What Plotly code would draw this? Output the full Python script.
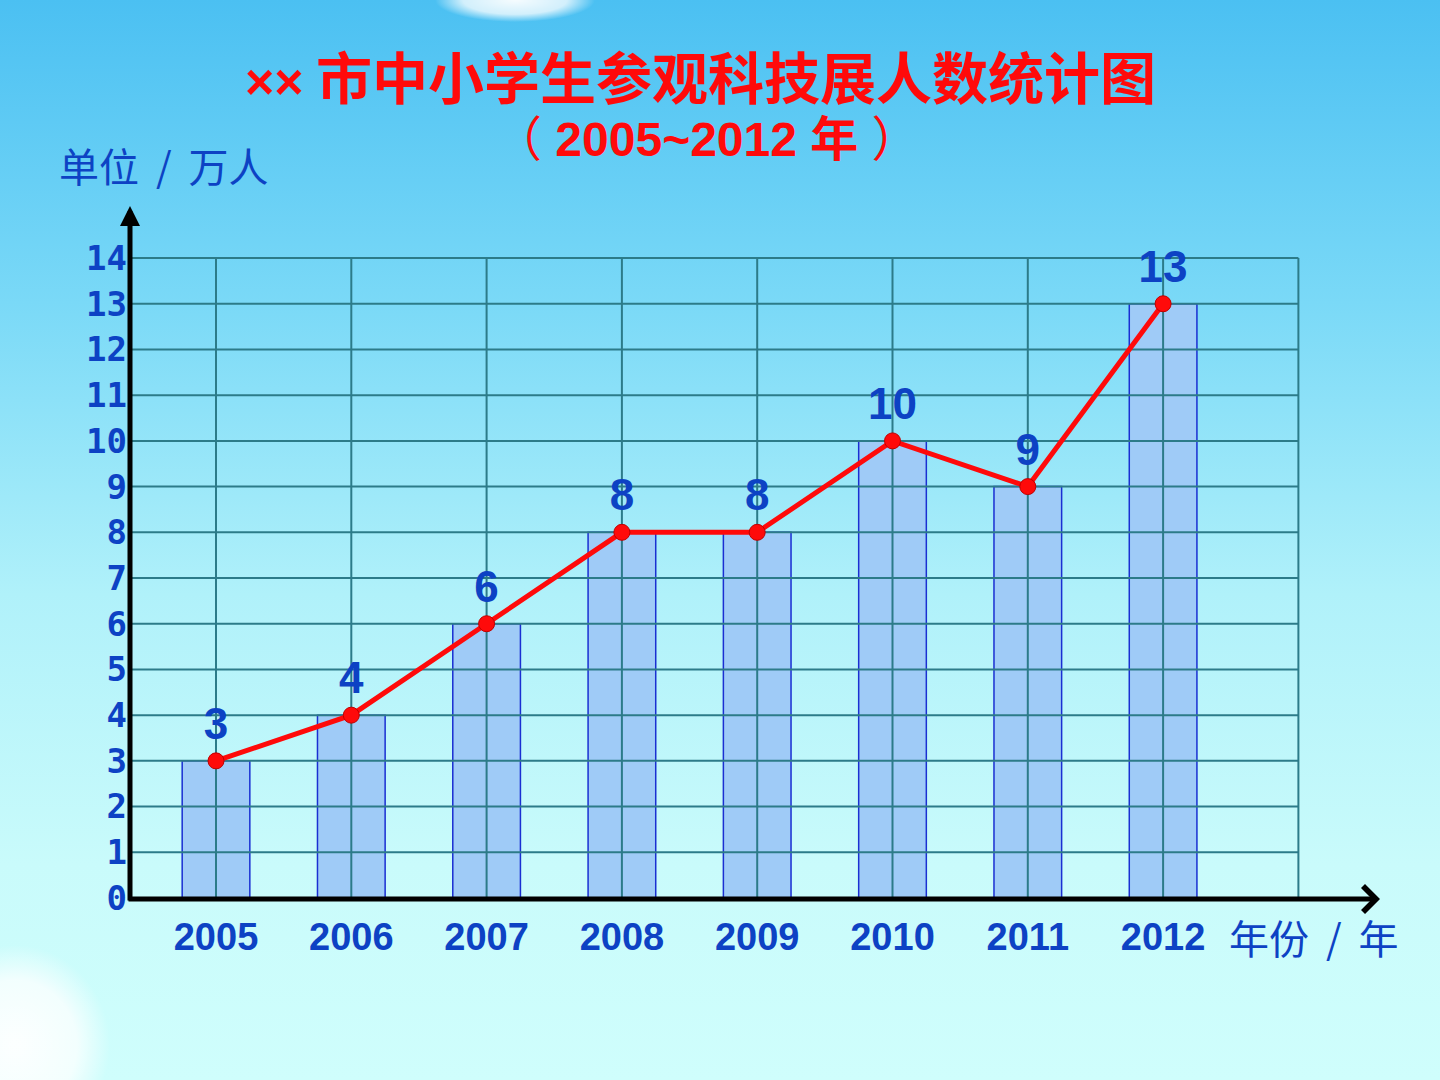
import base64
import plotly.graph_objects as go

# ---------------- data ----------------
years = [2005, 2006, 2007, 2008, 2009, 2010, 2011, 2012]
year_labels = ["2005", "2006", "2007", "2008", "2009", "2010", "2011", "2012"]
visitors = [3, 4, 6, 8, 8, 10, 9, 13]          # 单位：万人
y_ticks = list(range(0, 15))
y_tick_labels = [str(v) for v in y_ticks]

title_text = "市中小学生参观科技展人数统计图"
subtitle_text = "2005~2012 年"
y_unit = "单位 / 万人"
x_unit = "年份 / 年"

# ---------------- layout geometry ----------------
FW, FH = 1440, 1080
L, T, W, H = 130, 248, 1170, 650
PX_PER_YEAR = 135.3
X0 = 2005 - (216 - L) / PX_PER_YEAR
X1 = X0 + W / PX_PER_YEAR
Y1 = 14.22


def pxx(x):
    return (x - L) / W


def pyy(y):
    return (T + H - y) / H


BLUE = "#0d42c4"
GRID = "#2c7b89"

# gridlines as a trace so they sit above bars but below the line
gx, gy = [], []
for v in y_ticks[1:]:
    gx += [X0, years[-1] + 1, None]
    gy += [v, v, None]
for yr in years + [years[-1] + 1]:
    gx += [yr, yr, None]
    gy += [0, y_ticks[-1], None]

fig = go.Figure()
fig.add_trace(go.Bar(
    x=years, y=visitors, width=0.5,
    marker=dict(color="#9fcbf7", line=dict(color="#1a2fd2", width=1.5)),
    hoverinfo="skip", showlegend=False,
))
fig.add_trace(go.Scatter(
    x=gx, y=gy, mode="lines", line=dict(color=GRID, width=2),
    hoverinfo="skip", showlegend=False,
))
fig.add_trace(go.Scatter(
    x=years, y=visitors, mode="lines+markers+text",
    text=[str(v) for v in visitors], textposition="top center",
    textfont=dict(family="Liberation Sans", size=44, color=BLUE, weight="bold"),
    line=dict(color="#ff0a0a", width=5),
    marker=dict(color="#ff0a0a", size=16, line=dict(color="#c00000", width=1)),
    cliponaxis=False, showlegend=False,
))

svg = f"""<svg xmlns='http://www.w3.org/2000/svg' width='{FW}' height='{FH}' preserveAspectRatio='none'>
<defs>
<linearGradient id='g' x1='0' y1='0' x2='0' y2='1'>
<stop offset='0' stop-color='#4bc0f2'/>
<stop offset='0.28' stop-color='#7ad9f7'/>
<stop offset='0.55' stop-color='#b0f1fa'/>
<stop offset='0.8' stop-color='#c9fbfb'/>
<stop offset='1' stop-color='#cffefc'/>
</linearGradient>
<radialGradient id='c' cx='0.5' cy='0.5' r='0.5'>
<stop offset='0' stop-color='#ffffff' stop-opacity='0.95'/>
<stop offset='0.65' stop-color='#ffffff' stop-opacity='0.75'/>
<stop offset='1' stop-color='#ffffff' stop-opacity='0'/>
</radialGradient>
</defs>
<rect width='{FW}' height='{FH}' fill='url(#g)'/>
<ellipse cx='15' cy='1045' rx='95' ry='100' fill='url(#c)'/>
<ellipse cx='515' cy='0' rx='80' ry='22' fill='url(#c)'/>
</svg>"""
src = "data:image/svg+xml;base64," + base64.b64encode(svg.encode()).decode()

fig.update_layout(
    width=FW, height=FH,
    margin=dict(l=L, r=FW - L - W, t=T, b=FH - T - H, pad=0),
    paper_bgcolor="#a6ecf9", plot_bgcolor="rgba(0,0,0,0)",
    showlegend=False,
    images=[dict(source=src, xref="paper", yref="paper",
                 x=pxx(0), y=pyy(0), sizex=FW / W, sizey=FH / H,
                 xanchor="left", yanchor="top", sizing="stretch", layer="below")],
    xaxis=dict(range=[X0, X1], tickvals=years, ticktext=year_labels,
               showgrid=False, zeroline=False, showline=False, ticks="",
               ticklabelstandoff=13,
               tickfont=dict(family="Liberation Sans", size=38, color=BLUE, weight="bold")),
    yaxis=dict(range=[0, Y1], tickvals=y_ticks, ticktext=y_tick_labels,
               showgrid=False, zeroline=False, showline=False, ticks="",
               ticklabelstandoff=2,
               tickfont=dict(family="DejaVu Sans Mono", size=34, color=BLUE, weight="bold")),
)

annotations = [
    # title
    dict(x=pxx(700), y=pyy(75), xref="paper", yref="paper", showarrow=False,
         text="<span style='font-family:Liberation Sans;font-size:50px'><b>××</b></span> <b>" + title_text + "</b>",
         font=dict(family="Noto Sans CJK SC", size=56, color="#ff0a0a"),
         xanchor="center", yanchor="middle"),
    dict(x=pxx(707), y=pyy(139), xref="paper", yref="paper", showarrow=False,
         text="（ <b>" + subtitle_text + "</b> ）",
         font=dict(family="Liberation Sans, Noto Sans CJK SC", size=48, color="#ff0a0a"),
         xanchor="center", yanchor="middle"),
    dict(x=pxx(57), y=pyy(165), xref="paper", yref="paper", showarrow=False,
         text=y_unit.replace(" / ", " \u2009/\u2009 "),
         font=dict(family="Noto Sans CJK SC", size=40, color=BLUE),
         xanchor="left", yanchor="middle"),
    dict(x=pxx(1227), y=pyy(937), xref="paper", yref="paper", showarrow=False,
         text=x_unit.replace(" / ", " \u2009/\u2009 "),
         font=dict(family="Noto Sans CJK SC", size=40, color=BLUE),
         xanchor="left", yanchor="middle"),
    # y axis arrow
    dict(x=pxx(130), y=pyy(206), xref="paper", yref="paper",
         ax=0, ay=696, axref="pixel", ayref="pixel", text="", showarrow=True,
         arrowhead=2, arrowsize=0.8, arrowwidth=5, arrowcolor="#000000"),
    # x axis arrow
    dict(x=pxx(1380), y=pyy(899), xref="paper", yref="paper",
         ax=-1253, ay=0, axref="pixel", ayref="pixel", text="", showarrow=True,
         arrowhead=4, arrowsize=1.0, arrowwidth=5, arrowcolor="#000000"),
]
fig.update_layout(annotations=annotations)

fig.write_html("out.html")
